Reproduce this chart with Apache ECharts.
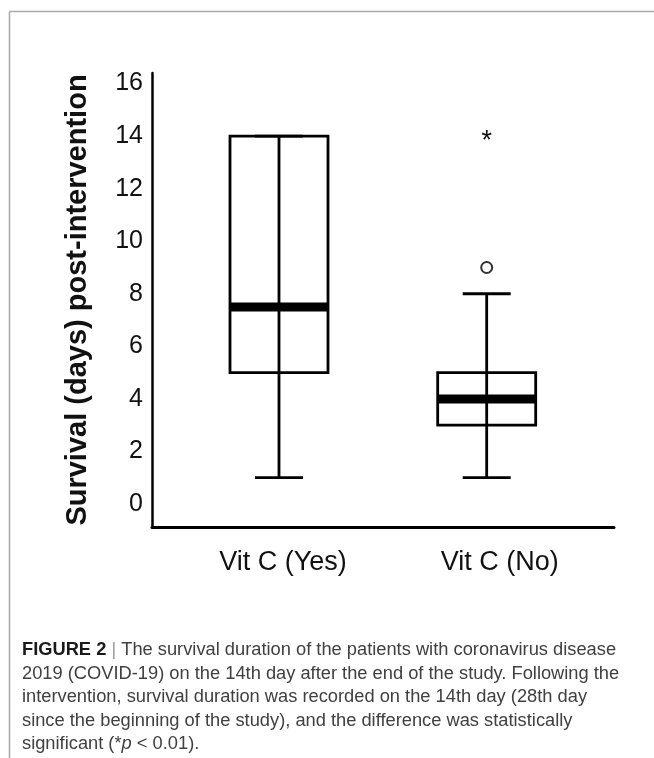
<!DOCTYPE html>
<html>
<head>
<meta charset="utf-8">
<script src="https://cdn.jsdelivr.net/npm/echarts@6/dist/echarts.min.js"></script>
<style>
html,body{margin:0;padding:0;background:#fff;}
#c{width:654px;height:758px;}
</style>
</head>
<body>
<div id="c"></div>
<script>
// ---- data ----
const categories = ['Vit C (Yes)', 'Vit C (No)'];
const whiskerLow = [1, 1];
const quartile1 = [5, 3];
const medians = [7.5, 4];
const quartile3 = [14, 5];
const whiskerHigh = [14, 8];
const outliers = [[1, 9]];   // open circle (category index, value)
const extremes = [[1, 14]];  // asterisk
const yTicks = [0, 2, 4, 6, 8, 10, 12, 14, 16];
const xTicks = [0, 1];
const yAxisName = 'Survival (days) post-intervention';
const captionLines = [
  '{b|FIGURE 2} {s||} The survival duration of the patients with coronavirus disease',
  '2019 (COVID-19) on the 14th day after the end of the study. Following the',
  'intervention, survival duration was recorded on the 14th day (28th day',
  'since the beginning of the study), and the difference was statistically',
  'significant (*{i|p} < 0.01).'
];

const boxData = categories.map((c, i) => [i, whiskerLow[i], quartile1[i], medians[i], quartile3[i], whiskerHigh[i]]);

const FONT = '"Liberation Sans", Arial, Helvetica, sans-serif';
const CAP = 18.3;

function renderBox(params, api) {
  const x = api.value(0);
  const pLow = api.coord([x, api.value(1)]);
  const pQ1 = api.coord([x, api.value(2)]);
  const pMed = api.coord([x, api.value(3)]);
  const pQ3 = api.coord([x, api.value(4)]);
  const pHigh = api.coord([x, api.value(5)]);
  const half = 49, cap = 24;
  const st = { stroke: '#000', lineWidth: 2.8, fill: 'none' };
  return {
    type: 'group',
    children: [
      { type: 'line', shape: { x1: pLow[0], y1: pLow[1], x2: pHigh[0], y2: pHigh[1] }, style: st },
      { type: 'line', shape: { x1: pLow[0] - cap, y1: pLow[1], x2: pLow[0] + cap, y2: pLow[1] }, style: st },
      { type: 'line', shape: { x1: pHigh[0] - cap, y1: pHigh[1], x2: pHigh[0] + cap, y2: pHigh[1] }, style: st },
      { type: 'rect', shape: { x: pQ3[0] - half, y: pQ3[1], width: 2 * half, height: pQ1[1] - pQ3[1] }, style: st },
      { type: 'rect', shape: { x: pMed[0] - half, y: pMed[1] - 4.5, width: 2 * half, height: 9 }, style: { fill: '#000' } }
    ]
  };
}

function renderStar(params, api) {
  const p = api.coord([api.value(0), api.value(1)]);
  return {
    type: 'text',
    x: p[0], y: p[1] + 5,
    style: { text: '*', fontSize: 27, fontFamily: FONT, fill: '#111', align: 'center', verticalAlign: 'middle' }
  };
}

const graphics = [
  { type: 'line', shape: { x1: 9.5, y1: 11.5, x2: 654, y2: 11.5 }, style: { stroke: '#a9a9a9', lineWidth: 1.5 } },
  { type: 'line', shape: { x1: 9.5, y1: 11.5, x2: 9.5, y2: 758 }, style: { stroke: '#a9a9a9', lineWidth: 1.5 } }
];
captionLines.forEach((t, i) => {
  graphics.push({
    type: 'text', x: 22, y: 650 + i * 23.5,
    style: {
      text: t, fontSize: CAP, fontFamily: FONT, fill: '#404040', verticalAlign: 'middle',
      rich: {
        b: { fontSize: CAP, fontFamily: FONT, fontWeight: 'bold', fill: '#1a1a1a' },
        s: { fontSize: CAP, fontFamily: FONT, fill: '#9a9a9a' },
        i: { fontSize: CAP, fontFamily: FONT, fontStyle: 'italic', fill: '#404040' }
      }
    }
  });
});

const chart = echarts.init(document.getElementById('c'));
chart.setOption({
  animation: false,
  backgroundColor: '#fff',
  grid: { left: 152, right: 40, top: 73, bottom: 231, containLabel: false },
  xAxis: {
    type: 'value', min: -0.6115, max: 1.613,
    axisLine: { onZero: false, lineStyle: { color: '#000', width: 3 } },
    axisTick: { show: false },
    splitLine: { show: false },
    axisLabel: {
      customValues: xTicks,
      formatter: v => (Math.round(v) === 0 ? '{a|' : '{b|') + categories[Math.round(v)] + '}',
      fontSize: 27, fontFamily: FONT, color: '#111', margin: 22,
      rich: {
        a: { fontSize: 27, fontFamily: FONT, color: '#111', padding: [0, 0, 0, 8] },
        b: { fontSize: 27, fontFamily: FONT, color: '#111', padding: [0, 0, 0, 26] }
      }
    }
  },
  yAxis: {
    type: 'value', min: -0.875, max: 16.4,
    name: yAxisName, nameLocation: 'middle', nameGap: 60,
    nameTextStyle: { fontSize: 29, fontWeight: 'bold', fontFamily: FONT, color: '#111' },
    axisLine: { onZero: false, lineStyle: { color: '#000', width: 2.5 } },
    axisTick: { show: false },
    splitLine: { show: false },
    axisLabel: {
      customValues: yTicks, fontSize: 25, fontFamily: FONT, color: '#111', margin: 9, padding: [5, 0, 0, 0]
    }
  },
  series: [
    { type: 'custom', renderItem: renderBox, data: boxData, encode: { x: 0, y: [1, 2, 3, 4, 5] } },
    {
      type: 'scatter', data: outliers, symbol: 'emptyCircle', symbolSize: 11,
      itemStyle: { color: '#000', borderColor: '#000', borderWidth: 1.8 }
    },
    { type: 'custom', renderItem: renderStar, data: extremes }
  ],
  graphic: graphics
});
</script>
</body>
</html>
